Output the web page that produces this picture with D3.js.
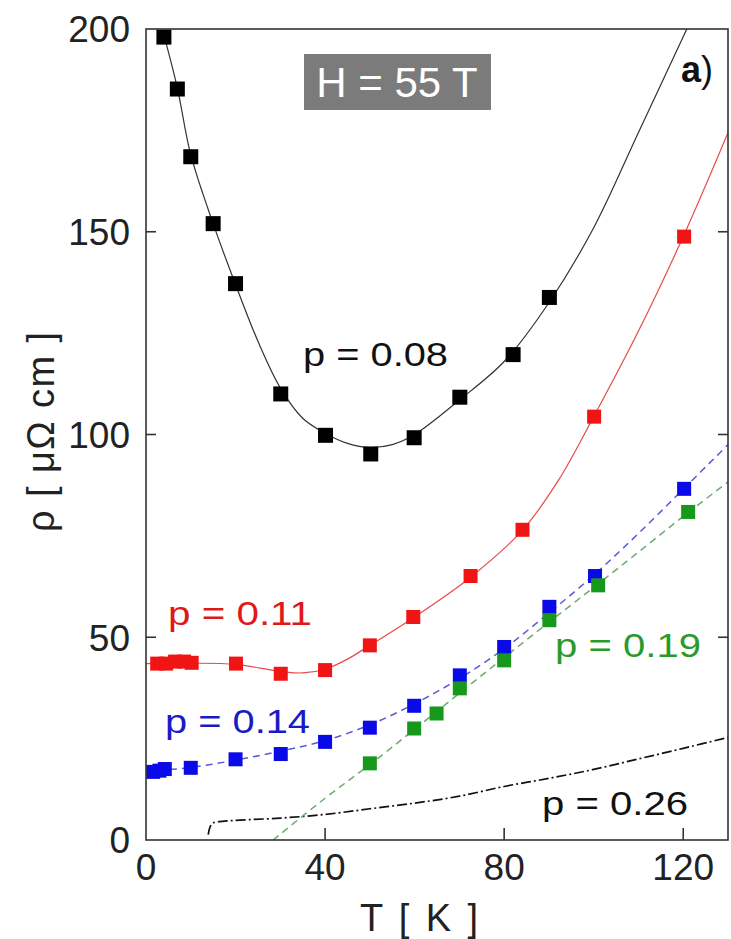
<!DOCTYPE html>
<html>
<head>
<meta charset="utf-8">
<script src="https://cdn.jsdelivr.net/npm/d3@7"></script>
<style>
  html, body { margin: 0; padding: 0; background: #fff; }
  svg { display: block; font-family: "Liberation Sans", Arial, sans-serif; }
</style>
</head>
<body>
<svg id="chart" width="731" height="939"></svg>
<script>
// ---------- data ----------
// p = 0.08 (black squares + solid fit)
const blackT   = [4, 7, 10, 15, 20, 30.1, 40.1, 50.2, 59.9, 70.1, 82.0, 90.1];
const blackRho = [198, 185.2, 168.5, 152, 137.2, 110.0, 99.8, 95.2, 99.2, 109.2, 119.7, 133.8];
const blackFitT   = [4, 7, 10, 15, 20, 25, 30, 35, 40, 45, 50, 55, 60, 70, 80, 90, 100, 110, 120.8];
const blackFitRho = [198.5, 185.5, 169, 152, 137, 123, 111.5, 104, 100.3, 97.8, 96.8, 97.5, 100, 108.5, 118, 132.5, 151, 174.5, 200];

// p = 0.11 (red squares + solid fit)
const redT   = [2.5, 4.5, 6.5, 8.5, 10.2, 20.1, 30.1, 40, 50, 59.7, 72.5, 84.1, 100.1, 120.2];
const redRho = [43.5, 43.5, 44, 44, 43.7, 43.5, 41.0, 41.9, 48.0, 55.0, 65.1, 76.5, 104.4, 148.8];
const redFitT   = [0, 10, 20, 30, 35, 40, 45, 50, 60, 72.5, 84, 92, 100, 110, 120, 130];
const redFitRho = [43.5, 43.6, 43.3, 41.6, 41.2, 42.1, 44.6, 48.0, 55.0, 64.8, 76.3, 88.5, 104.4, 125.5, 148.8, 174.4];

// p = 0.14 (blue squares + dashed fit)
const blueT   = [1.6, 3, 4.2, 10, 20, 30.1, 40, 50, 59.9, 70.1, 80, 90.1, 100.3, 120.2];
const blueRho = [16.8, 17.1, 17.5, 17.8, 19.9, 21.2, 24.2, 27.7, 33.1, 40.6, 47.6, 57.5, 65.1, 86.6];
const blueFitT   = [0, 10, 20, 30, 40, 50, 60, 70, 80, 90, 100, 110, 120, 130];
const blueFitRho = [16.9, 17.9, 19.7, 21.9, 24.5, 28.4, 33.6, 39.8, 47.2, 56.0, 65.3, 75.6, 86.5, 97.5];

// p = 0.19 (green squares + dashed fit)
const greenT   = [50, 59.9, 64.9, 70.1, 80, 90.1, 101, 121.1];
const greenRho = [18.9, 27.5, 31.2, 37.4, 44.3, 54.2, 62.8, 80.9];
const greenFitT   = [28.4, 40, 50, 60, 70, 80, 90, 100, 110, 120, 130];
const greenFitRho = [0, 10.3, 18.6, 27.3, 36.2, 45.0, 53.7, 62.3, 71.0, 79.8, 88.3];

// p = 0.26 (dash-dot curve only)
const p26T   = [13.9, 14.3, 15, 17, 21, 30, 40, 50, 60, 70, 80, 90, 100, 110, 120, 130];
const p26Rho = [1.3, 3.2, 4.2, 4.6, 4.9, 5.4, 6.3, 7.7, 9.1, 10.8, 13.2, 15.2, 17.4, 20.0, 22.6, 25.3];

const xTicks = [0, 40, 80, 120];
const yTicks = [0, 50, 100, 150, 200];

// ---------- layout ----------
const svg = d3.select("#chart");
const x = d3.scaleLinear().domain([0, 130]).range([146, 728]);
const y = d3.scaleLinear().domain([0, 200]).range([840, 29]);
const X0 = x(0), X1 = x(130), Y0 = y(0), Y1 = y(200);

svg.append("defs").append("clipPath").attr("id", "plotclip")
  .append("rect").attr("x", X0).attr("y", Y1).attr("width", X1 - X0).attr("height", Y0 - Y1);

const zip = (a, b) => a.map((v, i) => [v, b[i]]);
const line = d3.line().x(d => x(d[0])).y(d => y(d[1])).curve(d3.curveCatmullRom.alpha(0.5));

const plot = svg.append("g").attr("clip-path", "url(#plotclip)");

// fit curves
plot.append("path").datum(zip(p26T, p26Rho)).attr("d", line)
  .attr("fill", "none").attr("stroke", "#111").attr("stroke-width", 1.7)
  .attr("stroke-dasharray", "10,3,2,3");
plot.append("path").datum(zip(greenFitT, greenFitRho)).attr("d", line)
  .attr("fill", "none").attr("stroke", "#6cab6c").attr("stroke-width", 1.5)
  .attr("stroke-dasharray", "7,5");
plot.append("path").datum(zip(blueFitT, blueFitRho)).attr("d", line)
  .attr("fill", "none").attr("stroke", "#5a5ad6").attr("stroke-width", 1.5)
  .attr("stroke-dasharray", "7,5");
plot.append("path").datum(zip(redFitT, redFitRho)).attr("d", line)
  .attr("fill", "none").attr("stroke", "#e84a4a").attr("stroke-width", 1.2);
plot.append("path").datum(zip(blackFitT, blackFitRho)).attr("d", line)
  .attr("fill", "none").attr("stroke", "#333").attr("stroke-width", 1.2);

// markers
function squares(T, R, color, s) {
  svg.append("g").selectAll("rect").data(zip(T, R)).join("rect")
    .attr("x", d => x(d[0]) - s / 2).attr("y", d => y(d[1]) - s / 2)
    .attr("width", s).attr("height", s).attr("fill", color);
}
squares(redT, redRho, "#f01414", 14);
squares(blueT, blueRho, "#0a0ae8", 14);
squares(greenT, greenRho, "#16991a", 14);
squares(blackT, blackRho, "#000", 15);

// frame
svg.append("rect").attr("x", X0).attr("y", Y1).attr("width", X1 - X0).attr("height", Y0 - Y1)
  .attr("fill", "none").attr("stroke", "#333").attr("stroke-width", 1.6);

// ticks (inward)
const tk = svg.append("g").attr("stroke", "#333").attr("stroke-width", 1.6);
xTicks.filter(t => t > 0).forEach(t => {
  tk.append("line").attr("x1", x(t)).attr("x2", x(t)).attr("y1", Y0).attr("y2", Y0 - 12);
});
yTicks.filter(t => t > 0 && t < 200).forEach(t => {
  tk.append("line").attr("x1", X0).attr("x2", X0 + 10).attr("y1", y(t)).attr("y2", y(t));
  tk.append("line").attr("x1", X1).attr("x2", X1 - 10).attr("y1", y(t)).attr("y2", y(t));
});

// tick labels
svg.append("g").selectAll("text").data(yTicks).join("text")
  .attr("x", 130).attr("y", d => y(d)).attr("dy", "0.36em")
  .attr("text-anchor", "end").attr("font-size", 37).attr("fill", "#222")
  .text(d => d);
svg.append("g").selectAll("text").data(xTicks).join("text")
  .attr("x", d => x(d)).attr("y", 880)
  .attr("text-anchor", "middle").attr("font-size", 37).attr("fill", "#222")
  .text(d => d);

// axis titles
svg.append("text").attr("x", 419).attr("y", 931).attr("text-anchor", "middle")
  .attr("font-size", 38).attr("fill", "#222").attr("xml:space", "preserve")
  .attr("textLength", 118).attr("lengthAdjust", "spacing").text("T [ K ]");
svg.append("text").attr("transform", "translate(54,432) rotate(-90)")
  .attr("text-anchor", "middle").attr("font-size", 38).attr("fill", "#222")
  .attr("xml:space", "preserve")
  .attr("textLength", 200).attr("lengthAdjust", "spacing").text("ρ [ μΩ cm ]");

// H = 55 T box
svg.append("rect").attr("x", 304).attr("y", 54).attr("width", 187).attr("height", 56).attr("fill", "#7b7b7b");
svg.append("text").attr("x", 397).attr("y", 97).attr("text-anchor", "middle")
  .attr("font-size", 42).attr("fill", "#fff").text("H = 55 T");

// panel label
const pl = svg.append("text").attr("x", 681).attr("y", 82).attr("font-size", 36).attr("fill", "#111");
pl.append("tspan").attr("font-weight", "bold").text("a");
pl.append("tspan").text(")");

// series labels
function lab(txt, x0, base, width, color) {
  svg.append("text").attr("x", x0).attr("y", base).attr("font-size", 34).attr("fill", color)
    .attr("textLength", width).attr("lengthAdjust", "spacingAndGlyphs").text(txt);
}
lab("p = 0.08", 303, 366, 145, "#111");
lab("p = 0.11", 168, 625, 144, "#e01818");
lab("p = 0.14", 165, 733, 145, "#1a1ac8");
lab("p = 0.19", 555, 657, 146, "#2a9a2a");
lab("p = 0.26", 542, 815, 146, "#111");
</script>
</body>
</html>
